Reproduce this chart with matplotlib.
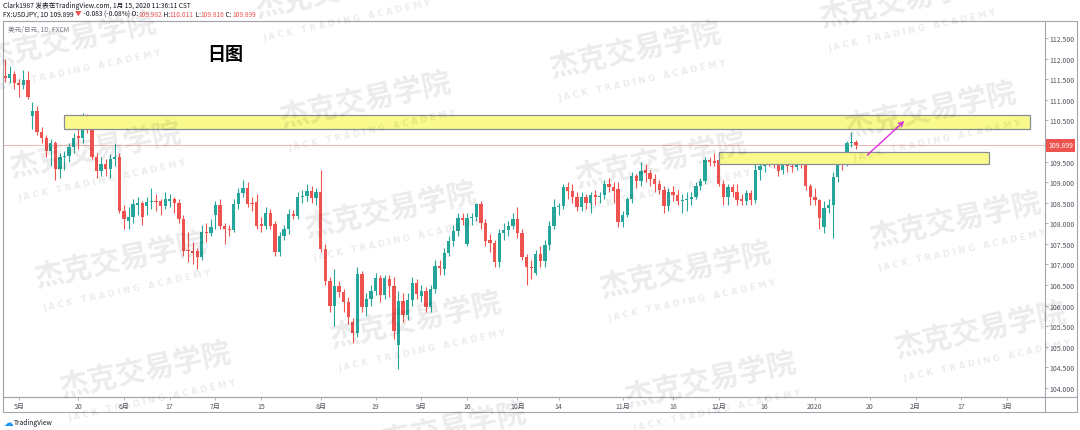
import matplotlib
matplotlib.use('Agg')
import matplotlib.pyplot as plt
import numpy as np
import pandas as pd
from matplotlib.patches import Rectangle, FancyArrowPatch
from matplotlib.lines import Line2D
from matplotlib.transforms import blended_transform_factory

plt.rcParams['font.family'] = ['Noto Sans CJK SC', 'DejaVu Sans']

# ---- daily USDJPY candles, 2019-04-26 .. 2020-01-15 (no bars on Dec 25 / Jan 1)
opens = [
    111.57, 111.52, 111.63, 111.41, 111.36, 111.48, 110.60, 110.73, 110.22, 110.07,
    109.76, 109.95, 109.32, 109.61, 109.63, 109.85, 110.12, 110.07, 110.48, 110.34,
    109.61, 109.27, 109.44, 109.32, 109.56, 109.60,
    # Jun
    108.30, 108.05, 108.16, 108.45, 108.50, 108.42, 108.52, 108.55, 108.55, 108.42,
    108.55, 108.58, 108.50, 108.10, 107.36, 107.33, 107.33, 107.18, 107.79, 107.76,
    # Jul
    108.20, 108.45, 107.93, 107.86, 107.84, 108.47, 108.74, 108.86, 108.50, 108.52,
    107.98, 107.93, 108.25, 107.98, 107.30, 107.69, 107.86, 108.23, 108.18, 108.64,
    108.67, 108.79, 108.62,
    # Aug
    108.76, 107.38, 106.60, 105.99, 106.48, 106.33, 106.09, 105.60, 105.34, 106.77,
    105.97, 106.16, 106.36, 106.67, 106.26, 106.64, 106.48, 105.05, 106.11, 105.77,
    106.14, 106.55,
    # Sep
    106.23, 106.35, 105.97, 106.40, 106.96, 106.89, 107.28, 107.57, 107.81, 108.13,
    107.50, 108.12, 108.15, 108.47, 108.00, 107.60, 107.52, 107.06, 107.77, 107.84,
    107.93,
    # Oct
    108.10, 107.76, 107.18, 106.95, 106.80, 107.25, 107.08, 107.48, 107.93, 108.40,
    108.43, 108.88, 108.78, 108.64, 108.40, 108.64, 108.50, 108.69, 108.63, 108.69,
    108.95, 108.88, 108.83,
    # Nov
    108.02, 108.20, 108.59, 109.15, 109.02, 109.30, 109.22, 109.08, 108.96, 108.81,
    108.42, 108.76, 108.68, 108.54, 108.57, 108.60, 108.64, 108.90, 109.03, 109.54,
    109.52,
    # Dec
    109.54, 108.95, 108.64, 108.88, 108.76, 108.60, 108.55, 108.74, 108.57, 109.29,
    109.40, 109.54, 109.48, 109.55, 109.30, 109.44, 109.38, 109.36, 109.63, 109.45,
    108.90,
    # Jan
    108.64, 108.57, 107.92, 108.38, 108.45, 109.12, 109.51, 109.46, 109.95, 109.982,
]
highs = [
    112.00, 111.83, 111.70, 111.50, 111.72, 111.70, 110.95, 110.85, 110.35, 110.15,
    110.05, 110.00, 109.70, 109.75, 109.95, 110.20, 110.30, 110.67, 110.65, 110.40,
    109.70, 109.60, 109.55, 109.68, 109.95, 109.70,
    108.45, 108.40, 108.60, 108.65, 108.55, 108.65, 108.85, 108.70, 108.60, 108.75,
    108.70, 108.65, 108.60, 108.20, 107.80, 107.55, 107.40, 107.95, 108.00, 108.10,
    108.55, 108.60, 108.00, 107.95, 108.60, 108.85, 109.05, 109.00, 108.65, 108.70,
    108.15, 108.40, 108.35, 108.05, 107.80, 107.95, 108.35, 108.32, 108.75, 108.80,
    108.95, 108.90, 108.85,
    109.30, 107.50, 106.70, 106.90, 106.60, 106.40, 106.20, 105.70, 106.95, 106.85,
    106.30, 106.50, 106.80, 106.75, 106.75, 106.75, 106.70, 106.35, 106.30, 106.30,
    106.70, 106.65,
    106.50, 106.45, 106.50, 107.10, 107.10, 107.40, 107.70, 107.95, 108.25, 108.25,
    108.25, 108.25, 108.50, 108.55, 108.10, 107.75, 107.60, 107.85, 108.00, 108.05,
    108.25,
    108.40, 107.85, 107.25, 107.10, 107.35, 107.45, 107.60, 108.05, 108.60, 108.50,
    108.95, 109.00, 108.95, 108.75, 108.75, 108.70, 108.75, 108.80, 108.75, 109.05,
    109.10, 109.00, 109.00,
    108.30, 108.65, 109.25, 109.20, 109.48, 109.45, 109.30, 109.20, 109.05, 108.90,
    108.85, 108.90, 108.80, 108.70, 108.75, 108.75, 109.00, 109.10, 109.60, 109.60,
    109.70,
    109.72, 109.05, 108.95, 108.95, 108.95, 108.70, 108.80, 108.80, 109.70, 109.70,
    109.65, 109.70, 109.70, 109.70, 109.55, 109.55, 109.50, 109.70, 109.70, 109.55,
    108.95,
    108.85, 108.60, 108.55, 108.60, 109.25, 109.65, 109.70, 110.00, 110.22, 110.011,
]
lows = [
    111.42, 111.40, 111.25, 111.07, 111.25, 111.02, 110.30, 110.15, 109.95, 109.62,
    109.40, 109.05, 109.10, 109.30, 109.50, 109.70, 109.80, 109.95, 110.20, 109.55,
    109.10, 109.15, 109.15, 109.10, 109.40, 108.25,
    107.85, 107.85, 108.00, 108.20, 107.95, 108.20, 108.35, 108.30, 108.20, 108.35,
    108.40, 108.25, 108.00, 107.20, 107.05, 107.00, 106.90, 107.10, 107.55, 107.70,
    107.85, 107.85, 107.50, 107.70, 107.78, 108.35, 108.65, 108.40, 108.30, 107.85,
    107.80, 107.85, 107.85, 107.20, 107.20, 107.60, 107.75, 108.10, 108.10, 108.50,
    108.55, 108.50, 108.45,
    107.30, 106.50, 105.85, 105.50, 106.20, 105.85, 105.55, 105.10, 105.25, 105.85,
    105.75, 106.00, 106.25, 106.10, 106.15, 106.20, 105.20, 104.47, 105.60, 105.65,
    106.00, 106.15,
    106.10, 105.85, 105.85, 106.30, 106.75, 106.75, 107.20, 107.45, 107.70, 107.95,
    107.45, 107.95, 108.05, 107.85, 107.45, 107.30, 106.95, 106.95, 107.60, 107.70,
    107.85,
    107.65, 107.10, 106.50, 106.65, 106.75, 106.95, 106.95, 107.35, 107.85, 108.20,
    108.35, 108.60, 108.50, 108.30, 108.30, 108.35, 108.25, 108.45, 108.50, 108.60,
    108.75, 108.50, 107.90,
    107.90, 108.15, 108.50, 108.85, 108.90, 109.00, 108.90, 108.75, 108.70, 108.25,
    108.30, 108.55, 108.45, 108.25, 108.30, 108.45, 108.60, 108.80, 108.95, 109.40,
    109.40,
    108.90, 108.45, 108.45, 108.65, 108.45, 108.45, 108.45, 108.45, 108.50, 109.05,
    109.25, 109.40, 109.35, 109.15, 109.20, 109.25, 109.25, 109.30, 109.35, 108.80,
    108.45,
    108.45, 107.85, 107.77, 108.25, 107.65, 109.00, 109.30, 109.40, 109.85, 109.816,
]
closes = [
    111.52, 111.63, 111.41, 111.36, 111.48, 111.07, 110.73, 110.22, 110.07, 109.76,
    109.95, 109.32, 109.61, 109.63, 109.85, 110.07, 110.07, 110.48, 110.34, 109.61,
    109.27, 109.44, 109.32, 109.56, 109.60, 108.30,
    108.10, 108.16, 108.47, 108.50, 108.16, 108.52, 108.55, 108.52, 108.42, 108.60,
    108.58, 108.50, 108.10, 107.33, 107.33, 107.28, 107.18, 107.79, 107.76, 107.91,
    108.45, 107.93, 107.86, 107.84, 108.47, 108.74, 108.86, 108.47, 108.47, 107.93,
    107.93, 108.25, 107.93, 107.30, 107.69, 107.86, 108.23, 108.18, 108.64, 108.67,
    108.79, 108.62, 108.76,
    107.38, 106.60, 105.99, 106.48, 106.33, 106.09, 105.73, 105.34, 106.77, 105.97,
    106.16, 106.36, 106.67, 106.26, 106.67, 106.48, 105.38, 106.11, 105.77, 106.14,
    106.55, 106.28,
    106.35, 105.97, 106.40, 106.96, 106.91, 107.28, 107.57, 107.81, 108.13, 108.08,
    108.12, 108.15, 108.47, 108.00, 107.58, 107.52, 107.06, 107.77, 107.84, 107.93,
    108.10,
    107.76, 107.18, 106.93, 106.92, 107.25, 107.08, 107.48, 107.93, 108.40, 108.43,
    108.88, 108.78, 108.64, 108.40, 108.64, 108.50, 108.69, 108.63, 108.67, 108.95,
    108.88, 108.78, 108.02,
    108.20, 108.59, 109.15, 109.02, 109.27, 109.22, 109.08, 108.96, 108.81, 108.42,
    108.76, 108.68, 108.54, 108.57, 108.60, 108.64, 108.90, 109.03, 109.54, 109.50,
    109.47,
    108.95, 108.64, 108.88, 108.76, 108.57, 108.55, 108.74, 108.57, 109.29, 109.40,
    109.54, 109.48, 109.46, 109.26, 109.44, 109.38, 109.36, 109.63, 109.45, 108.90,
    108.64,
    108.57, 108.12, 108.38, 108.45, 109.12, 109.51, 109.46, 109.95, 109.98, 109.899,
]

last_price = 109.899
tick_dates = ['2019-05-01', '2019-05-20', '2019-06-03', '2019-06-17', '2019-07-01',
              '2019-07-15', '2019-08-01', '2019-08-19', '2019-09-02', '2019-09-16',
              '2019-10-01', '2019-10-14', '2019-11-01', '2019-11-18', '2019-12-02',
              '2019-12-16', '2020-01-02', '2020-01-20', '2020-02-03', '2020-02-17',
              '2020-03-02']
tick_labels = ['5月', '20', '6月', '17', '7月', '15', '8月', '19', '9月', '16', '10月',
               '14', '11月', '18', '12月', '16', '2020', '20', '2月', '17', '3月']
price_ticks = np.arange(104.0, 112.51, 0.5)

# drawn zones (start date, end date, low, high) and the arrow
zones = [('2019-05-15', '2020-03-09', 110.29, 110.62),
         ('2019-12-02', '2020-02-25', 109.44, 109.73)]
arrow = (('2020-01-17', 109.61), ('2020-01-30', 110.53))

dates = pd.bdate_range('2019-04-26', '2020-03-20')
dates = dates.drop([pd.Timestamp('2019-12-25'), pd.Timestamp('2020-01-01')])
def pos(d):
    return dates.get_loc(pd.Timestamp(d))

W, H = 1080, 431
fig = plt.figure(figsize=(W / 100, H / 100), dpi=100)
def fx(px): return px / W
def fy(py): return 1 - py / H

GRID = '#a3a6af'
ax = fig.add_axes([fx(3), fy(398), fx(1045) - fx(3), fy(22) - fy(398)])
ax.set_xlim(-0.44, 227.3)
ax.set_ylim(103.782, 112.913)

o = np.array(opens); h = np.array(highs); l = np.array(lows); c = np.array(closes)
x = np.arange(len(c))
cols = np.where(c >= o, '#26a69a', '#ef5350')
ax.vlines(x, l, h, colors=cols, lw=0.8, zorder=2)
ax.bar(x, np.maximum(np.abs(c - o), 0.03), bottom=np.minimum(o, c), width=0.72,
       color=cols, lw=0, zorder=3)

ax.axhline(last_price, color='#f4a7a7', lw=0.6, zorder=1)

for d0, d1, lo, hi in zones:
    ax.add_patch(Rectangle((pos(d0), lo), pos(d1) - pos(d0), hi - lo,
                           fc='#fafa8c', ec='#8a8d96', lw=0.9, zorder=4))
(a0, p0), (a1, p1) = arrow
ax.add_patch(FancyArrowPatch((pos(a0), p0), (pos(a1), p1), arrowstyle='->',
                             mutation_scale=8, color='#e02ee0', lw=1.0, zorder=5))

ax.set_xticks([pos(d) for d in tick_dates])
ax.set_xticklabels(tick_labels)
ax.yaxis.tick_right()
ax.set_yticks(price_ticks)
ax.set_yticklabels([f'{v:.3f}' for v in price_ticks])
ax.tick_params(axis='x', length=2, width=0.6, color=GRID, pad=1.5, labelsize=5,
               labelcolor='#50535e')
ax.tick_params(axis='y', length=2, width=0.6, color=GRID, pad=1.5, labelsize=5,
               labelcolor='#50535e')
for s in ax.spines.values():
    s.set_color(GRID)
    s.set_linewidth(0.8)

# price label on the right scale
tr = blended_transform_factory(ax.transAxes, ax.transData)
ax.text(1.003, last_price, f'{last_price:.3f}', transform=tr, ha='left', va='center',
        fontsize=5, color='white', zorder=6,
        bbox=dict(boxstyle='square,pad=0.35', fc='#ef5350', ec='none'))

# outer frame of the snapshot
fig.add_artist(Rectangle((fx(3), fy(413)), fx(1077) - fx(3), fy(22) - fy(413),
                         transform=fig.transFigure, fill=False, ec=GRID, lw=0.8))
fig.add_artist(Line2D([fx(3), fx(1077)], [fy(398), fy(398)], transform=fig.transFigure,
                      color=GRID, lw=0.8))
fig.add_artist(Line2D([fx(1045), fx(1045)], [fy(398), fy(413)], transform=fig.transFigure,
                      color=GRID, lw=0.8))

# header lines
rend = fig.canvas.get_renderer()
def write_line(parts, px, py, size):
    xx = fx(px)
    for s, col in parts:
        t = fig.text(xx, fy(py), s, color=col, fontsize=size, ha='left', va='center')
        xx += t.get_window_extent(renderer=rend).width / W

RED = '#ef5350'
DARK = '#131722'
write_line([('Clark1987 发表在TradingView.com, 1月 15, 2020 11:36:11 CST', DARK)], 3, 6, 4.8)
write_line([('FX:USDJPY, 1D 109.899 ', DARK), ('▼', RED), (' -0.083 (-0.08%) O:', DARK),
            ('109.982', RED), (' H:', DARK), ('110.011', RED), (' L:', DARK),
            ('109.816', RED), (' C:', DARK), ('109.899', RED)], 3, 15, 4.8)
fig.text(fx(8), fy(30), '美元/日元, 1D, FXCM', fontsize=4.8, color='#787b86',
         ha='left', va='center')
fig.text(fx(225), fy(55), '日图', fontsize=13, fontweight='bold', color='black',
         ha='center', va='center')

# TradingView mark
fig.text(fx(3), fy(423), '☁', fontsize=7, color='#2196f3', ha='left', va='center',
         family='DejaVu Sans')
fig.text(fx(14), fy(423), 'TradingView', fontsize=4.8, color=DARK, ha='left', va='center')

# watermark lattice
for r in range(-1, 4):
    for k in range(0, 4):
        cx = 95 + 270 * k + 25 * r
        cy = 150 - 50 * k + 110 * r
        if cy < -40 or cy > 470:
            continue
        fig.text(fx(cx), fy(cy), '杰克交易学院', fontsize=21, fontweight='bold',
                 color='black', alpha=0.08, rotation=12, ha='center', va='center',
                 zorder=10)
        fig.text(fx(cx + 7), fy(cy + 31), 'J A C K   T R A D I N G   A C A D E M Y',
                 fontsize=6, fontweight='bold', color='black', alpha=0.08, rotation=12,
                 ha='center', va='center', family='DejaVu Sans', zorder=10)

fig.savefig('out.png', dpi=100)
